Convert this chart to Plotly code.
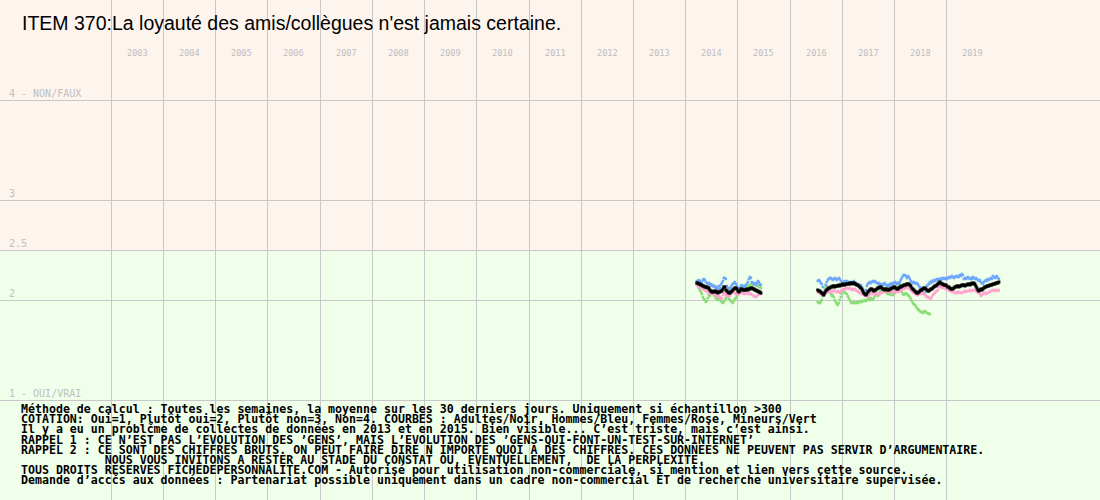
import pandas as pd
import plotly.graph_objects as go

TITLE = "ITEM 370:La loyauté des amis/collègues n'est jamais certaine."
YEARS = list(range(2003, 2020))
Y_TICKS = [1, 2, 2.5, 3, 4]
Y_LABELS = ["1 - OUI/VRAI", "2", "2.5", "3", "4 - NON/FAUX"]

# Weekly series, period 1 (2014-2015)
START_1 = "2014-03-20"
adultes_1 = [2.17, 2.17, 2.16, 2.16, 2.15, 2.15, 2.14, 2.14, 2.13, 2.13,
             2.13, 2.12, 2.12, 2.10, 2.09, 2.08, 2.08, 2.09, 2.08, 2.09,
             2.08, 2.07, 2.08, 2.08, 2.09, 2.09, 2.11, 2.13, 2.13, 2.10,
             2.09, 2.08, 2.07, 2.07, 2.08, 2.09, 2.10, 2.11, 2.12, 2.12,
             2.11, 2.09, 2.08, 2.09, 2.11, 2.11, 2.10, 2.10, 2.10, 2.10,
             2.11, 2.10, 2.11, 2.11, 2.12, 2.12, 2.11, 2.11, 2.10, 2.10,
             2.09, 2.09, 2.08, 2.08, 2.07]
hommes_1 = [2.19, 2.18, 2.20, 2.19, 2.17, 2.18, 2.20, 2.21, 2.20, 2.18,
            2.17, 2.16, 2.17, 2.15, 2.16, 2.14, 2.15, 2.13, 2.14, 2.12,
            2.13, 2.11, 2.14, 2.12, 2.15, 2.17, 2.19, 2.22, 2.22, 2.21,
            2.14, 2.12, 2.11, 2.12, 2.13, 2.15, 2.16, 2.17, 2.18, 2.16,
            2.14, 2.12, 2.11, 2.12, 2.14, 2.15, 2.14, 2.13, 2.14, 2.15,
            2.16, 2.18, 2.21, 2.23, 2.22, 2.18, 2.17, 2.16, 2.17, 2.15,
            2.17, 2.19, 2.18, 2.16, 2.15]
femmes_1 = [2.15, 2.14, 2.14, 2.13, 2.12, 2.12, 2.11, 2.10, 2.10, 2.09,
            2.09, 2.08, 2.07, 2.07, 2.06, 2.06, 2.07, 2.06, 2.05, 2.05,
            2.04, 2.03, 2.04, 2.03, 2.01, 2.02, 2.05, 2.07, 2.06, 2.05,
            2.04, 2.04, 2.05, 2.04, 2.06, 2.07, 2.08, 2.08, 2.07, 2.06,
            2.06, 2.05, 2.06, 2.07, 2.08, 2.08, 2.07, 2.06, 2.06, 2.07,
            2.07, 2.06, 2.06, 2.07, 2.06, 2.05, 2.05, 2.04, 2.03, 2.03,
            2.04, 2.05, 2.06, 2.06, 2.06]
mineurs_1 = [2.15, 2.16, 2.12, 2.10, 2.08, 2.06, 2.03, 2.01, 2.00, 1.98,
             1.99, 2.02, 2.05, 2.04, 2.06, 2.08, 2.07, 2.05, 2.04, 2.02,
             2.01, 2.00, 2.02, 2.01, 1.99, 1.98, 1.97, 1.98, 2.00, 2.02,
             2.04, 2.03, 2.01, 2.00, 1.99, 1.98, 1.97, 1.99, 2.01, 2.02,
             2.04, 2.06, 2.07, 2.08, 2.09, 2.09, 2.08, 2.10, 2.11, 2.13,
             2.15, 2.14, 2.13, 2.15, 2.16, 2.17, 2.15, 2.12, 2.10, 2.09,
             2.14, 2.15, 2.13, 2.14, 2.12]

# Weekly series, period 2 (2016-2019)
START_2 = "2016-07-13"
adultes_2 = [2.10, 2.09, 2.09, 2.08, 2.07, 2.06, 2.05, 2.07, 2.09, 2.10,
             2.11, 2.12, 2.12, 2.13, 2.13, 2.14, 2.14, 2.13, 2.14, 2.14,
             2.14, 2.15, 2.14, 2.15, 2.15, 2.16, 2.15, 2.15, 2.16, 2.16,
             2.16, 2.16, 2.17, 2.16, 2.17, 2.17, 2.16, 2.17, 2.16, 2.15,
             2.15, 2.14, 2.13, 2.12, 2.11, 2.09, 2.07, 2.06, 2.05, 2.06,
             2.08, 2.09, 2.10, 2.11, 2.11, 2.10, 2.09, 2.10, 2.10, 2.11,
             2.12, 2.12, 2.13, 2.13, 2.12, 2.11, 2.11, 2.10, 2.11, 2.11,
             2.10, 2.10, 2.11, 2.11, 2.12, 2.12, 2.13, 2.13, 2.12, 2.11,
             2.11, 2.12, 2.13, 2.13, 2.14, 2.14, 2.15, 2.15, 2.15, 2.16,
             2.16, 2.16, 2.15, 2.14, 2.12, 2.11, 2.10, 2.09, 2.08, 2.07,
             2.07, 2.08, 2.09, 2.10, 2.10, 2.11, 2.12, 2.12, 2.11, 2.10,
             2.09, 2.09, 2.10, 2.11, 2.11, 2.12, 2.13, 2.14, 2.14, 2.15,
             2.16, 2.17, 2.18, 2.17, 2.16, 2.16, 2.15, 2.15, 2.15, 2.14,
             2.13, 2.13, 2.12, 2.11, 2.11, 2.11, 2.12, 2.13, 2.13, 2.14,
             2.14, 2.13, 2.14, 2.14, 2.15, 2.15, 2.15, 2.14, 2.15, 2.15,
             2.16, 2.16, 2.15, 2.16, 2.17, 2.16, 2.17, 2.16, 2.14, 2.12,
             2.10, 2.09, 2.10, 2.11, 2.10, 2.11, 2.12, 2.13, 2.13, 2.14,
             2.14, 2.14, 2.15, 2.15, 2.15, 2.16, 2.16, 2.16, 2.17, 2.17,
             2.17, 2.18]
hommes_2 = [2.19, 2.20, 2.19, 2.17, 2.16, 2.13, 2.05, 2.09, 2.15, 2.18,
            2.20, 2.21, 2.22, 2.22, 2.21, 2.20, 2.21, 2.22, 2.21, 2.20,
            2.21, 2.22, 2.21, 2.19, 2.18, 2.17, 2.18, 2.19, 2.18, 2.19,
            2.18, 2.18, 2.17, 2.18, 2.17, 2.18, 2.19, 2.17, 2.16, 2.15,
            2.16, 2.15, 2.14, 2.15, 2.13, 2.11, 2.08, 2.07, 2.10, 2.14,
            2.16, 2.17, 2.18, 2.17, 2.18, 2.19, 2.18, 2.19, 2.18, 2.17,
            2.16, 2.17, 2.16, 2.15, 2.16, 2.15, 2.16, 2.17, 2.15, 2.14,
            2.15, 2.14, 2.16, 2.15, 2.17, 2.16, 2.17, 2.18, 2.17, 2.16,
            2.17, 2.16, 2.18, 2.20, 2.22, 2.24, 2.25, 2.25, 2.24, 2.22,
            2.24, 2.23, 2.21, 2.19, 2.18, 2.17, 2.18, 2.17, 2.16, 2.17,
            2.16, 2.14, 2.13, 2.12, 2.10, 2.08, 2.07, 2.07, 2.11, 2.14,
            2.15, 2.16, 2.18, 2.17, 2.19, 2.18, 2.20, 2.19, 2.20, 2.21,
            2.20, 2.21, 2.21, 2.20, 2.22, 2.21, 2.22, 2.21, 2.22, 2.21,
            2.22, 2.23, 2.22, 2.23, 2.24, 2.23, 2.22, 2.23, 2.24, 2.23,
            2.24, 2.23, 2.25, 2.24, 2.26, 2.25, 2.21, 2.22, 2.21, 2.22,
            2.23, 2.22, 2.21, 2.22, 2.21, 2.23, 2.22, 2.21, 2.22, 2.21,
            2.20, 2.19, 2.20, 2.18, 2.17, 2.16, 2.18, 2.19, 2.20, 2.19,
            2.21, 2.20, 2.21, 2.22, 2.21, 2.24, 2.23, 2.22, 2.23, 2.24,
            2.22, 2.21]
femmes_2 = [2.08, 2.07, 2.07, 2.06, 2.05, 2.06, 2.07, 2.06, 2.07, 2.08,
            2.08, 2.09, 2.08, 2.09, 2.08, 2.09, 2.10, 2.09, 2.08, 2.08,
            2.09, 2.08, 2.07, 2.09, 2.10, 2.11, 2.10, 2.11, 2.11, 2.12,
            2.12, 2.11, 2.12, 2.11, 2.10, 2.11, 2.10, 2.11, 2.10, 2.09,
            2.09, 2.08, 2.07, 2.07, 2.06, 2.06, 2.05, 2.05, 2.04, 2.04,
            2.03, 2.04, 2.06, 2.07, 2.06, 2.07, 2.07, 2.06, 2.07, 2.06,
            2.06, 2.05, 2.06, 2.07, 2.07, 2.08, 2.08, 2.09, 2.09, 2.10,
            2.09, 2.09, 2.08, 2.09, 2.08, 2.07, 2.08, 2.09, 2.08, 2.08,
            2.09, 2.08, 2.09, 2.10, 2.10, 2.11, 2.11, 2.12, 2.12, 2.13,
            2.13, 2.12, 2.11, 2.10, 2.09, 2.08, 2.07, 2.07, 2.06, 2.05,
            2.05, 2.06, 2.06, 2.07, 2.06, 2.07, 2.06, 2.05, 2.04, 2.03,
            2.03, 2.02, 2.02, 2.01, 2.03, 2.05, 2.06, 2.07, 2.08, 2.09,
            2.10, 2.13, 2.14, 2.13, 2.12, 2.13, 2.12, 2.12, 2.11, 2.11,
            2.10, 2.10, 2.09, 2.09, 2.08, 2.08, 2.08, 2.07, 2.07, 2.08,
            2.07, 2.08, 2.08, 2.07, 2.07, 2.08, 2.08, 2.09, 2.08, 2.09,
            2.09, 2.09, 2.10, 2.09, 2.09, 2.10, 2.10, 2.10, 2.09, 2.08,
            2.08, 2.07, 2.06, 2.04, 2.05, 2.06, 2.07, 2.07, 2.06, 2.07,
            2.07, 2.08, 2.08, 2.09, 2.09, 2.10, 2.10, 2.09, 2.10, 2.10,
            2.09, 2.10]
mineurs_2 = [1.98, 1.97, 1.97, 1.98, 2.00, 2.04, 2.08, 2.12, 2.15, 2.14,
             2.12, 2.10, 2.08, 2.06, 2.04, 2.05, 2.03, 2.00, 1.98, 1.96,
             1.95, 1.97, 2.00, 2.03, 2.06, 2.08, 2.09, 2.07, 2.07, 2.06,
             2.04, 2.02, 2.00, 1.98, 1.97, 1.97, 1.98, 1.97, 1.97, 1.98,
             1.97, 1.98, 1.98, 1.99, 1.98, 1.99, 1.99, 2.00, 1.99, 2.00,
             2.00, 2.01, 2.00, 2.02, 2.01, 2.00, 2.02, 2.04, 2.06, 2.05,
             2.04, 2.06, 2.08, 2.09, 2.10, 2.11, 2.10, 2.09, 2.08, 2.07,
             2.06, 2.07, 2.06, 2.05, 2.06, 2.05, 2.06, 2.07, 2.12, 2.16,
             2.17, 2.17, 2.16, 2.12, 2.08, 2.06, 2.05, 2.06, 2.07, 2.06,
             2.05, 2.04, 2.03, 2.01, 1.99, 1.97, 1.96, 1.95, 1.94, 1.92,
             1.91, 1.90, 1.89, 1.88, 1.88, 1.87, 1.88, 1.89, 1.88, 1.87,
             1.87, 1.86, 1.86]

NOTES = [
    "Méthode de calcul : Toutes les semaines, la moyenne sur les 30 derniers jours. Uniquement si échantillon >300",
    "COTATION: Oui=1, Plutôt oui=2, Plutôt non=3, Non=4. COURBES : Adultes/Noir, Hommes/Bleu, Femmes/Rose, Mineurs/Vert",
    "Il y a eu un problčme de collectes de données en 2013 et en 2015. Bien visible... C’est triste, mais c’est ainsi.",
    "RAPPEL 1 : CE N’EST PAS L’EVOLUTION DES ’GENS’, MAIS L’EVOLUTION DES ’GENS-QUI-FONT-UN-TEST-SUR-INTERNET’",
    "RAPPEL 2 : CE SONT DES CHIFFRES BRUTS. ON PEUT FAIRE DIRE N IMPORTE QUOI A DES CHIFFRES. CES DONNEES NE PEUVENT PAS SERVIR D’ARGUMENTAIRE.",
    "            NOUS VOUS INVITONS A RESTER AU STADE DU CONSTAT OU, EVENTUELLEMENT,  DE LA PERPLEXITE.",
    "TOUS DROITS RESERVES FICHEDEPERSONNALITE.COM - Autorisé pour utilisation non-commerciale, si mention et lien vers cette source.",
    "Demande d’accčs aux données : Partenariat possible uniquement dans un cadre non-commercial ET de recherche universitaire supervisée.",
]

W, H = 1100, 500
PINK_BG = "#FDF4EE"
GREEN_BG = "#EFFFE9"
GRID = "#C8C8C8"
LABEL_GRAY = "#BEBEBE"

# pixel anchors of the year grid
PX_2003, PX_2019 = 111.3, 946.7
d03 = pd.Timestamp("2003-01-01")
d19 = pd.Timestamp("2019-01-01")
px_per_day = (PX_2019 - PX_2003) / (d19 - d03).days
x_start = d03 - pd.Timedelta(days=PX_2003 / px_per_day)
x_end = d19 + pd.Timedelta(days=(W - PX_2019) / px_per_day)

dates_1 = pd.date_range(START_1, periods=len(adultes_1), freq="7D")
dates_2 = pd.date_range(START_2, periods=len(adultes_2), freq="7D")

series = [
    ("Mineurs", mineurs_1, mineurs_2, "#8CDC78", 2.5),
    ("Hommes", hommes_1, hommes_2, "#6EA8FE", 2.5),
    ("Femmes", femmes_1, femmes_2, "#FFA5CF", 2.5),
    ("Adultes", adultes_1, adultes_2, "#000000", 3),
]

fig = go.Figure()
for name, v1, v2, color, size in series:
    xs = list(dates_1) + list(dates_2[:len(v2)])
    ys = list(v1) + list(v2)
    fig.add_trace(go.Scatter(
        x=xs, y=ys, mode="markers", name=name,
        marker=dict(symbol="square", size=size, color=color, line=dict(width=0)),
        hoverinfo="skip",
    ))

shapes = [
    dict(type="rect", xref="paper", yref="y", x0=0, x1=1, y0=2.5, y1=5,
         fillcolor=PINK_BG, line=dict(width=0), layer="below"),
    dict(type="rect", xref="paper", yref="y", x0=0, x1=1, y0=0, y1=2.5,
         fillcolor=GREEN_BG, line=dict(width=0), layer="below"),
]

annotations = [
    dict(text=TITLE, xref="paper", yref="paper", x=20 / W, y=1 - 23 / H,
         xanchor="left", yanchor="middle", showarrow=False,
         font=dict(family="Liberation Sans, Arial", size=19.5, color="#000000")),
]
for yr in YEARS:
    annotations.append(dict(
        text=str(yr), xref="x", yref="paper",
        x=pd.Timestamp(f"{yr}-07-02"), y=1 - 53 / H,
        xanchor="center", yanchor="middle", showarrow=False,
        font=dict(family="DejaVu Sans Mono", size=8.6, color=LABEL_GRAY)))
for val, lab in zip(Y_TICKS, Y_LABELS):
    annotations.append(dict(
        text=lab, xref="paper", yref="y", x=8 / W, y=val,
        xanchor="left", yanchor="bottom", showarrow=False, borderpad=0,
        font=dict(family="DejaVu Sans Mono", size=10, color=LABEL_GRAY)))
for i, line in enumerate(NOTES):
    annotations.append(dict(
        text=line.replace(" ", "&nbsp;"), xref="paper", yref="paper",
        x=20 / W, y=1 - (409 + i * 10.2) / H,
        xanchor="left", yanchor="middle", showarrow=False, borderpad=0,
        font=dict(family="DejaVu Sans Mono", size=11.6, color="#000000",
                  weight="bold")))

fig.update_layout(
    width=W, height=H,
    margin=dict(l=0, r=0, t=0, b=0),
    paper_bgcolor=PINK_BG, plot_bgcolor=PINK_BG,
    showlegend=False,
    shapes=shapes,
    annotations=annotations,
    xaxis=dict(type="date", range=[x_start, x_end],
               tickvals=[pd.Timestamp(f"{y}-01-01") for y in YEARS],
               showticklabels=False, ticks="", showgrid=True,
               gridcolor=GRID, gridwidth=1, zeroline=False, showline=False),
    yaxis=dict(range=[0, 5], tickvals=Y_TICKS, showticklabels=False, ticks="",
               showgrid=True, gridcolor=GRID, gridwidth=1,
               zeroline=False, showline=False),
)

fig.write_html(
    "out.html",
    config={"displayModeBar": False},
    post_script="document.body.style.margin='0';document.body.style.padding='0';",
)
